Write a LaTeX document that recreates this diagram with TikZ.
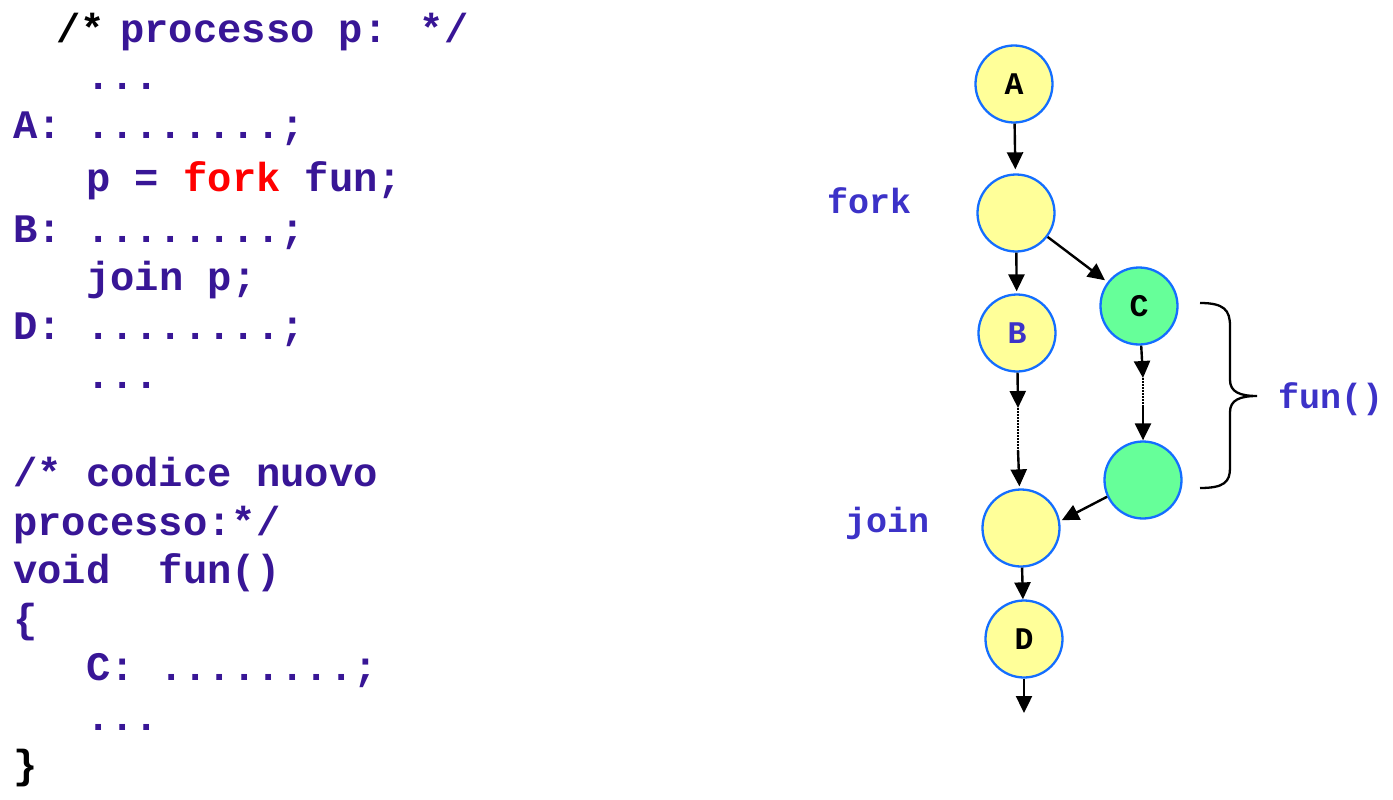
\documentclass[tikz,border=0pt]{standalone}
\usepackage{fontspec}
\newfontfamily\cf{Liberation Mono}
\usetikzlibrary{arrows.meta}
\definecolor{codep}{RGB}{56,22,150}
\definecolor{lblb}{RGB}{60,50,200}
\definecolor{ny}{RGB}{255,255,153}
\definecolor{ng}{RGB}{102,255,153}
\definecolor{nb}{RGB}{20,110,255}
\definecolor{fr}{RGB}{255,0,0}
\begin{document}
\begin{tikzpicture}[x=1pt,y=-1pt,
 code/.style={anchor=base west, inner sep=0pt, text=codep, font=\cf\bfseries\fontsize{40.5}{40.5}\selectfont},
 lbl/.style={anchor=base west, inner sep=0pt, text=lblb, font=\cf\bfseries\fontsize{35}{35}\selectfont},
 ynode/.style={circle, draw=nb, line width=2.3pt, fill=ny, minimum size=77pt, inner sep=0pt, font=\cf\bfseries\fontsize{31.5}{31.5}\selectfont},
 gnode/.style={ynode, fill=ng},
 arr/.style={line width=2.4pt, -{Triangle[length=17pt,width=16pt]}},
 dotl/.style={line width=2pt, dash pattern=on 1.6pt off 1.4pt},
 brc/.style={line width=2.3pt}
]
\useasboundingbox (0,0) rectangle (1393,800);

% code
\node[code, text=black] (l1a) at (56,43) {/*};
\node[code] (l1b) at (120,43) {processo p: */};
\node[code] (l2) at (86,90) {...};
\node[code] (l3) at (13,138) {A: ........;};
\node[code] (l4) at (86,191) {p = \textcolor{fr}{fork} fun;};
\node[code] (l5) at (13,242) {B: ........;};
\node[code] (l6) at (86,290) {join p;};
\node[code] (l7) at (13,339) {D: ........;};
\node[code] (l8) at (86,388) {...};
\node[code] (l9) at (13,486) {/* codice nuovo};
\node[code] (l10) at (13,535) {processo:*/};
\node[code] (l11) at (13,583) {void~~fun()};
\node[code] (l12) at (13,632) {\{};
\node[code] (l13) at (86,680) {C: ........;};
\node[code] (l14) at (86,730) {...};
\node[code, text=black] (l15) at (13,778) {\}};

% graph
\node[ynode] (A) at (1014,84) {A};
\node[ynode] (F) at (1016,213) {};
\node[ynode, text=lblb] (B) at (1017,333) {B};
\node[gnode] (C) at (1139,306) {C};
\node[gnode] (E) at (1143,480) {};
\node[ynode] (J) at (1021,528) {};
\node[ynode] (D) at (1024,639) {D};

\node[lbl] (fork) at (827,213) {fork};
\node[lbl] (join) at (845,532) {join};
\node[lbl] (fun) at (1278,408) {fun()};

\coordinate (b1) at (1018,408);
\coordinate (b2) at (1018,450);
\coordinate (c1) at (1143,378);
\coordinate (c2) at (1143,407);
\coordinate (dend) at (1024,713);

\draw[arr, shorten >=4pt] (A) -- (F);
\draw[arr, shorten >=2pt] (F) -- (B);
\draw[arr, shorten >=3pt] (F) -- (C);
\draw[arr] (B) -- (b1);
\draw[dotl] (b1) -- (b2);
\draw[arr, shorten >=2pt] (b2) -- (J);
\draw[arr] (C) -- (c1);
\draw[dotl] (c1) -- (c2);
\draw[arr] (c2) -- (E);
\draw[arr, shorten >=2pt] (E.205) -- (J.10);
\draw[arr] (J) -- (D);
\draw[arr] (D) -- (dend);

% brace
\draw[brc] (1200,303) .. controls (1224,303) and (1230,310) .. (1230,326)
  -- (1230,380) .. controls (1230,392) and (1240,396) .. (1257,396)
  .. controls (1240,396) and (1230,400) .. (1230,412)
  -- (1230,468) .. controls (1230,482) and (1224,488) .. (1200,488);
\end{tikzpicture}
\end{document}
